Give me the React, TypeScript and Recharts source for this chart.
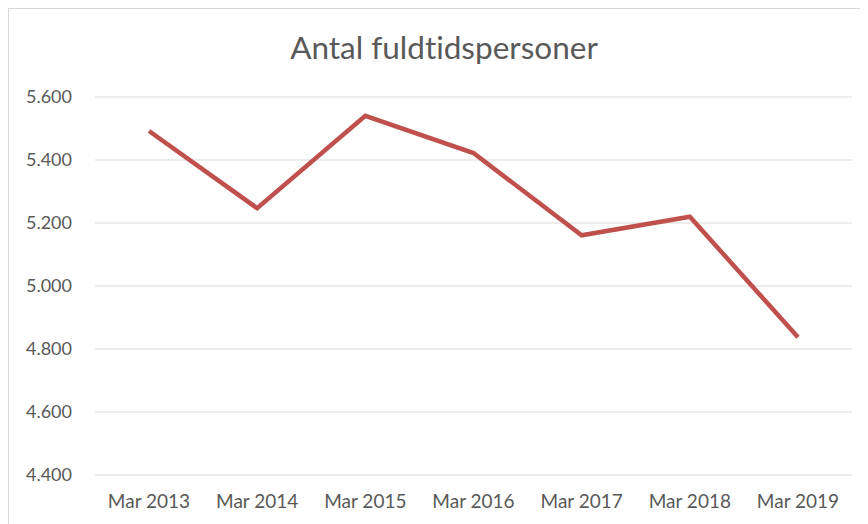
import React from 'react';
import { LineChart, Line, XAxis, YAxis, CartesianGrid } from 'recharts';

const categories = ['Mar 2013', 'Mar 2014', 'Mar 2015', 'Mar 2016', 'Mar 2017', 'Mar 2018', 'Mar 2019'];
const fuldtid = [5492, 5247, 5540, 5422, 5161, 5220, 4837];
const yTicks = [4400, 4600, 4800, 5000, 5200, 5400, 5600];

const data = categories.map((name, i) => ({ name, value: fuldtid[i] }));

const fmtDk = (v: number) => {
  const s = String(Math.round(v));
  return s.length > 3 ? s.slice(0, s.length - 3) + '.' + s.slice(-3) : s;
};

const font = 'Lato, "Open Sans", sans-serif';

export default function App() {
  return (
    <div
      style={{
        position: 'relative',
        width: 854,
        height: 520,
        border: '1px solid #d9d9d9',
        fontFamily: font,
      }}
    >
      <div
        style={{
          position: 'absolute',
          top: 19,
          left: 8,
          width: '100%',
          textAlign: 'center',
          fontSize: 31.5,
          color: '#595959',
          fontFamily: font,
          fontVariantLigatures: 'none',
        }}
      >
        Antal fuldtidspersoner
      </div>
      <LineChart width={854} height={520} data={data} margin={{ top: 88, right: 11, left: 16, bottom: 14 }}>
        <CartesianGrid vertical={false} stroke="#d9d9d9" />
        <XAxis
          dataKey="name"
          height={40}
          padding={{ left: 54, right: 54 }}
          axisLine={false}
          tickLine={false}
          tickMargin={14}
          tick={{ fill: '#595959', fontSize: 19, fontFamily: font }}
        />
        <YAxis
          width={70}
          domain={[4400, 5600]}
          ticks={yTicks}
          axisLine={false}
          tickLine={false}
          tickMargin={17}
          tickFormatter={fmtDk}
          tick={{ fill: '#595959', fontSize: 18, fontFamily: font }}
        />
        <Line
          type="linear"
          dataKey="value"
          stroke="#c0504d"
          strokeWidth={4.5}
          dot={false}
          isAnimationActive={false}
        />
      </LineChart>
    </div>
  );
}
